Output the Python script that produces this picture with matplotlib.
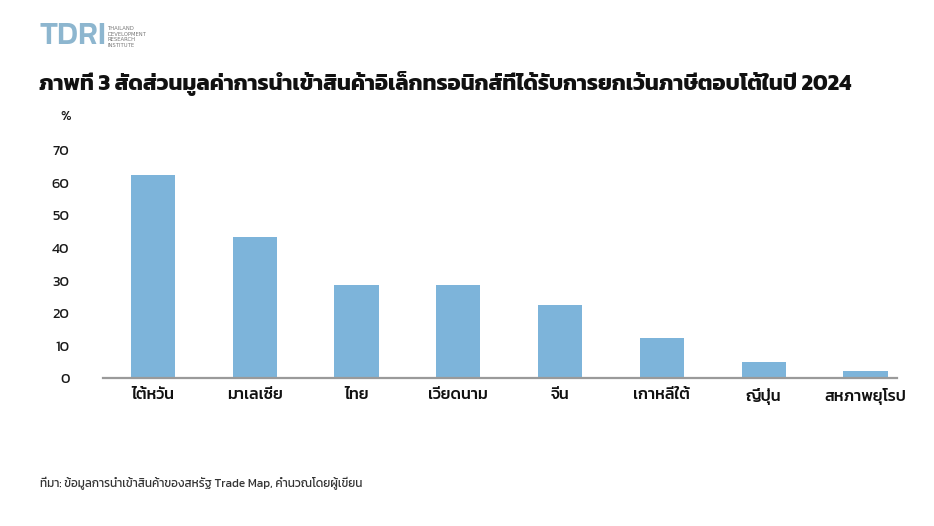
import matplotlib
matplotlib.use('Agg')
import matplotlib.pyplot as plt
from matplotlib import font_manager as fm

# ---- data ----
categories = ['ไต้หวัน', 'มาเลเซีย', 'ไทย', 'เวียดนาม', 'จีน', 'เกาหลีใต้', 'ญี่ปุ่น', 'สหภาพยุโรป']
values = [62.5, 43.3, 28.6, 28.6, 22.4, 12.4, 5.1, 2.3]
yticks = [0, 10, 20, 30, 40, 50, 60, 70]
title = 'ภาพที่ 3 สัดส่วนมูลค่าการนำเข้าสินค้าอิเล็กทรอนิกส์ที่ได้รับการยกเว้นภาษีตอบโต้ในปี 2024'
source = 'ที่มา: ข้อมูลการนำเข้าสินค้าของสหรัฐ Trade Map, คำนวณโดยผู้เขียน'

available = {f.name for f in fm.fontManager.ttflist}
def pick(*names):
    for n in names:
        if n in available:
            return n
    return 'DejaVu Sans'

thai = pick('Kanit', 'Prompt', 'Anuphan', 'Bai Jamjuree', 'Noto Sans Thai', 'Loma')
num = thai
plt.rcParams['font.family'] = [thai, 'DejaVu Sans']

W, H = 934, 526
fig = plt.figure(figsize=(W / 100, H / 100), dpi=100)

def fx(px):
    return px / W
def fy(py):
    return 1 - py / H

ax_left, ax_right = 103, 897
y0 = 378.3
ppu = 3.26
ytop = 75
ax = fig.add_axes([fx(ax_left), fy(y0), (ax_right - ax_left) / W, ytop * ppu / H])

bar_color = '#7DB4DA'
x = list(range(len(categories)))
ax.bar(x, values, width=0.435, color=bar_color, zorder=2)
ax.set_xlim(-0.49, 7.31)
ax.set_ylim(0, ytop)

for s in ['top', 'right', 'left']:
    ax.spines[s].set_visible(False)
ax.spines['bottom'].set_color('#9a9a9a')
ax.spines['bottom'].set_linewidth(1.6)

ax.set_yticks(yticks)
ax.set_yticklabels([str(v) for v in yticks], fontfamily=num, fontsize=10.5, color='#1a1a1a')
ax.tick_params(axis='y', length=0, pad=24)
ax.set_xticks(x)
ax.set_xticklabels(categories, fontsize=11.5, color='#111111', fontweight='medium')
ax.tick_params(axis='x', length=0, pad=7)

fig.text(fx(71), fy(116), '%', ha='right', va='center', fontsize=10.5, fontfamily=num, color='#1a1a1a')

fig.text(fx(39), fy(84), title, ha='left', va='center', fontsize=15.9, fontweight='bold', color='#111111')

fig.text(fx(40), fy(483), source, ha='left', va='center', fontsize=8.5, color='#333333')

logo_c = '#8DB6CF'
fig.text(fx(39), fy(37), 'TDRI', ha='left', va='center', fontsize=23, fontweight='medium',
         fontfamily=num, color=logo_c)
fig.text(fx(108), fy(37), 'THAILAND\nDEVELOPMENT\nRESEARCH\nINSTITUTE', ha='left', va='center',
         fontsize=3.8, color='#777777', fontfamily='DejaVu Sans', linespacing=1.1)

fig.savefig('out.png', dpi=100, facecolor='white')
